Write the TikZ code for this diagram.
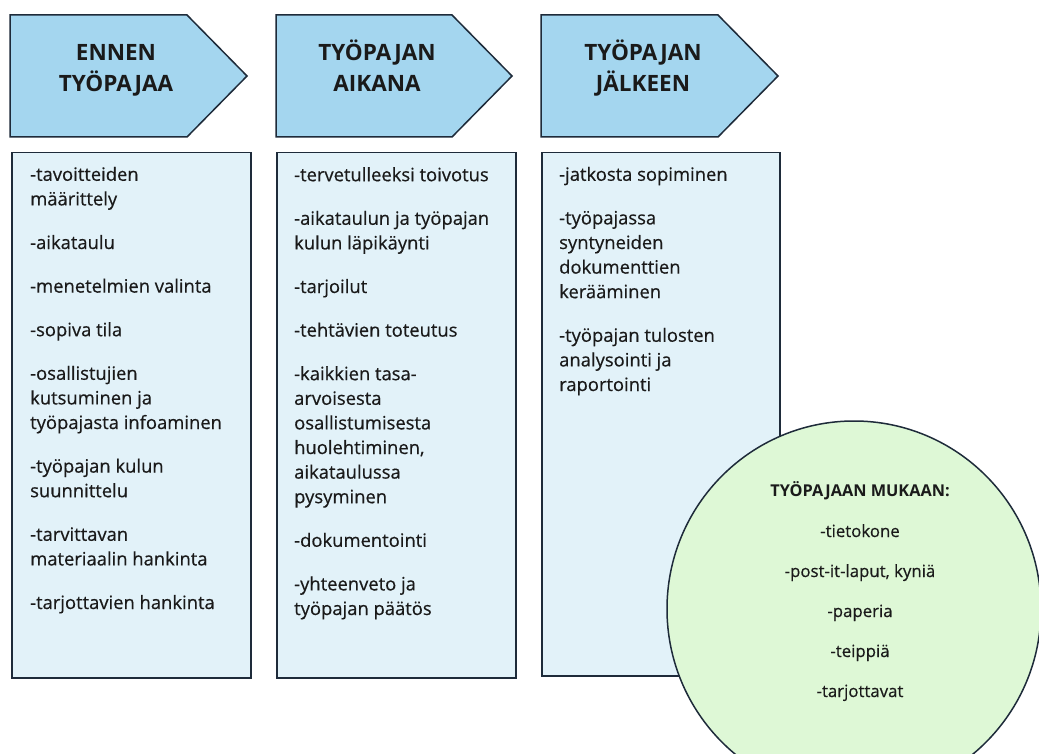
\documentclass[tikz,border=0pt]{standalone}
\usepackage{fontspec}
\setmainfont{Open Sans}
\newfontfamily\bodyfont[FakeBold=0.5]{Open Sans}
\usetikzlibrary{shapes.geometric}
\definecolor{edge}{HTML}{1E2B3A}
\definecolor{arrowfill}{HTML}{A4D6EF}
\definecolor{boxfill}{HTML}{E2F2F9}
\definecolor{circfill}{HTML}{DEF8D6}
\definecolor{txt}{HTML}{1A1A1A}
\tikzset{
  phase/.style={draw=edge, fill=arrowfill, line width=1.5pt, line join=miter},
  title/.style={align=center, inner sep=0pt, anchor=base, text=txt,
     font=\bfseries\fontsize{22.5}{31}\selectfont},
  listbox/.style={draw=edge, fill=boxfill, line width=1.5pt, rectangle,
     anchor=north west, inner sep=0pt, minimum width=239pt, minimum height=525pt},
  listtext/.style={align=left, inner sep=0pt, anchor=base west, text=txt,
     font=\bodyfont\fontsize{18.4}{24.6}\selectfont},
  bubble/.style={draw=edge, fill=circfill, line width=1.5pt, ellipse,
     inner sep=0pt, minimum width=374pt, minimum height=376pt},
  bubbletext/.style={align=center, inner sep=0pt, anchor=base, text=txt,
     font=\bodyfont\fontsize{16.8}{40}\selectfont}
}
\begin{document}
\begin{tikzpicture}[x=1pt, y=-1pt]
\useasboundingbox (0,0) rectangle (1039,754);
\fill[white] (0,0) rectangle (1039,754);
% phase arrows
\draw[phase] (10,15) -- (187,15) -- (247,76) -- (187,137) -- (10,137) -- cycle;
\draw[phase] (276,15) -- (452,15) -- (512,76) -- (452,137) -- (276,137) -- cycle;
\draw[phase] (541,15) -- (718,15) -- (778,76) -- (718,137) -- (541,137) -- cycle;
% (base anchor of a multi-line node = its last line)
\node[title] (t1) at (116,92) {ENNEN\\TYÖPAJAA};
\node[title] (t2) at (377,92) {TYÖPAJAN\\AIKANA};
\node[title] (t3) at (643,92) {TYÖPAJAN\\JÄLKEEN};
% list boxes
\node[listbox] (b1) at (11,152) {};
\node[listbox] (b2) at (276,152) {};
\node[listbox, minimum width=238pt, minimum height=523pt] (b3) at (541,152) {};
\node[listtext] (l1) at (30,609) {-tavoitteiden\\määrittely\\[19pt]
-aikataulu\\[19pt]
-menetelmien valinta\\[19pt]
-sopiva tila\\[19pt]
-osallistujien\\kutsuminen ja\\työpajasta infoaminen\\[19pt]
-työpajan kulun\\suunnittelu\\[19pt]
-tarvittavan\\materiaalin hankinta\\[19pt]
-tarjottavien hankinta};
\node[listtext] (l2) at (294,615) {-tervetulleeksi toivotus\\[19pt]
-aikataulun ja työpajan\\kulun läpikäynti\\[19pt]
-tarjoilut\\[19pt]
-tehtävien toteutus\\[19pt]
-kaikkien tasa-\\arvoisesta\\osallistumisesta\\huolehtiminen,\\aikataulussa\\pysyminen\\[19pt]
-dokumentointi\\[19pt]
-yhteenveto ja\\työpajan päätös};
\node[listtext] (l3) at (559,391) {-jatkosta sopiminen\\[19pt]
-työpajassa\\syntyneiden\\dokumenttien\\kerääminen\\[19pt]
-työpajan tulosten\\analysointi ja\\raportointi};
% bubble
\node[bubble] (c) at (854,609) {};
\node[bubbletext] (ct) at (860,697) {{\normalfont\bfseries\fontsize{16.3}{20}\selectfont TYÖPAJAAN MUKAAN:}\\[1pt]
-tietokone\\-post-it-laput, kyniä\\-paperia\\-teippiä\\-tarjottavat};
\end{tikzpicture}
\end{document}
